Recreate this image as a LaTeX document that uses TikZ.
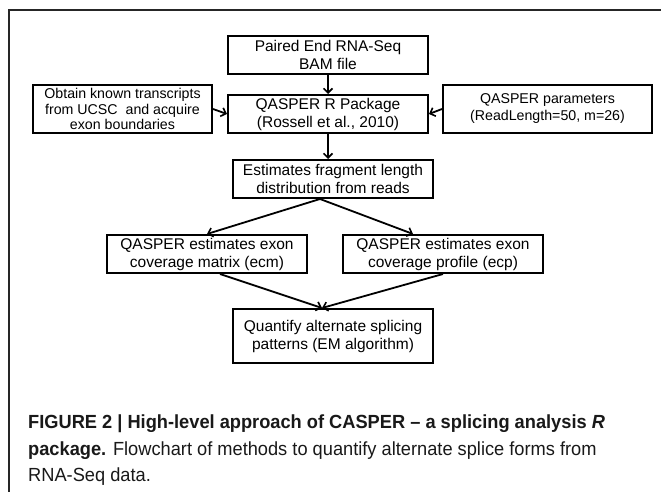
\documentclass[tikz,border=0pt]{standalone}
\usepackage{fontspec}
\setmainfont{Liberation Sans}
\newfontfamily\capfont[FakeStretch=0.96]{Liberation Sans}
\usetikzlibrary{arrows.meta}
\begin{document}
\begin{tikzpicture}[x=1pt,y=-1pt,
  flowbox/.style={draw=black, line width=2pt, rectangle, align=center,
    inner sep=0pt, minimum width=200pt, minimum height=38pt,
    font=\fontsize{15.5}{18}\selectfont},
  sidebox/.style={flowbox, font=\fontsize{14.2}{15.5}\selectfont, minimum height=48pt},
  flow/.style={line width=1.8pt, -{Straight Barb[length=4.5pt,width=9pt,line width=1.6pt]}},
  captext/.style={anchor=base west, inner sep=0pt, font=\capfont\fontsize{19}{27}\selectfont, text=black!90}]
  \useasboundingbox (0,0) rectangle (661,492);
  \fill[white] (0,0) rectangle (661,492);
  % frame of the figure panel
  \draw[line width=1.8pt, black!85] (9,492) -- (9,10) -- (662,10);

  % boxes
  \node[flowbox] (bam) at (328,55) {Paired End RNA-Seq\\BAM file};
  \node[sidebox, minimum width=179pt] (known) at (122.5,109) {Obtain known transcripts\\from UCSC~ and acquire\\exon boundaries};
  \node[flowbox] (pkg) at (328,114) {QASPER R Package\\(Rossell et al., 2010)};
  \node[sidebox, minimum width=209pt, font=\fontsize{14.2}{17}\selectfont] (params) at (547.5,109) {QASPER parameters\\(ReadLength=50, m=26)};
  \node[flowbox] (est) at (333,179) {Estimates fragment length\\distribution from reads};
  \node[flowbox] (ecm) at (207,254) {QASPER estimates exon\\coverage matrix (ecm)};
  \node[flowbox] (ecp) at (443,254) {QASPER estimates exon\\coverage profile (ecp)};
  \node[flowbox, minimum height=54pt] (quant) at (333,336) {Quantify alternate splicing\\patterns (EM algorithm)};

  % connectors
  \draw[flow] (bam.south) -- (pkg.north);
  \draw[flow] (known.east) -- (pkg.west);
  \draw[flow] (params.west) -- (pkg.east);
  \draw[flow] (pkg.south) -- (pkg.south |- est.north);
  \draw[flow] ([xshift=-13pt]est.south) -- (ecm.north);
  \draw[flow] ([xshift=-13pt]est.south) -- ([xshift=-30pt]ecp.north);
  \draw[flow] ([xshift=13pt]ecm.south) -- ([xshift=-11pt]quant.north);
  \draw[flow] (ecp.south) -- ([xshift=-11pt]quant.north);

  % caption
  \node[captext] (cap1) at (28,428) {\bfseries FIGURE 2 | High-level approach of CASPER – a splicing analysis \textit{R}};
  \node[captext] (cap2) at (28,455) {\textbf{package.} Flowchart of methods to quantify alternate splice forms from};
  \node[captext] (cap3) at (28,481) {RNA-Seq data.};
\end{tikzpicture}
\end{document}
